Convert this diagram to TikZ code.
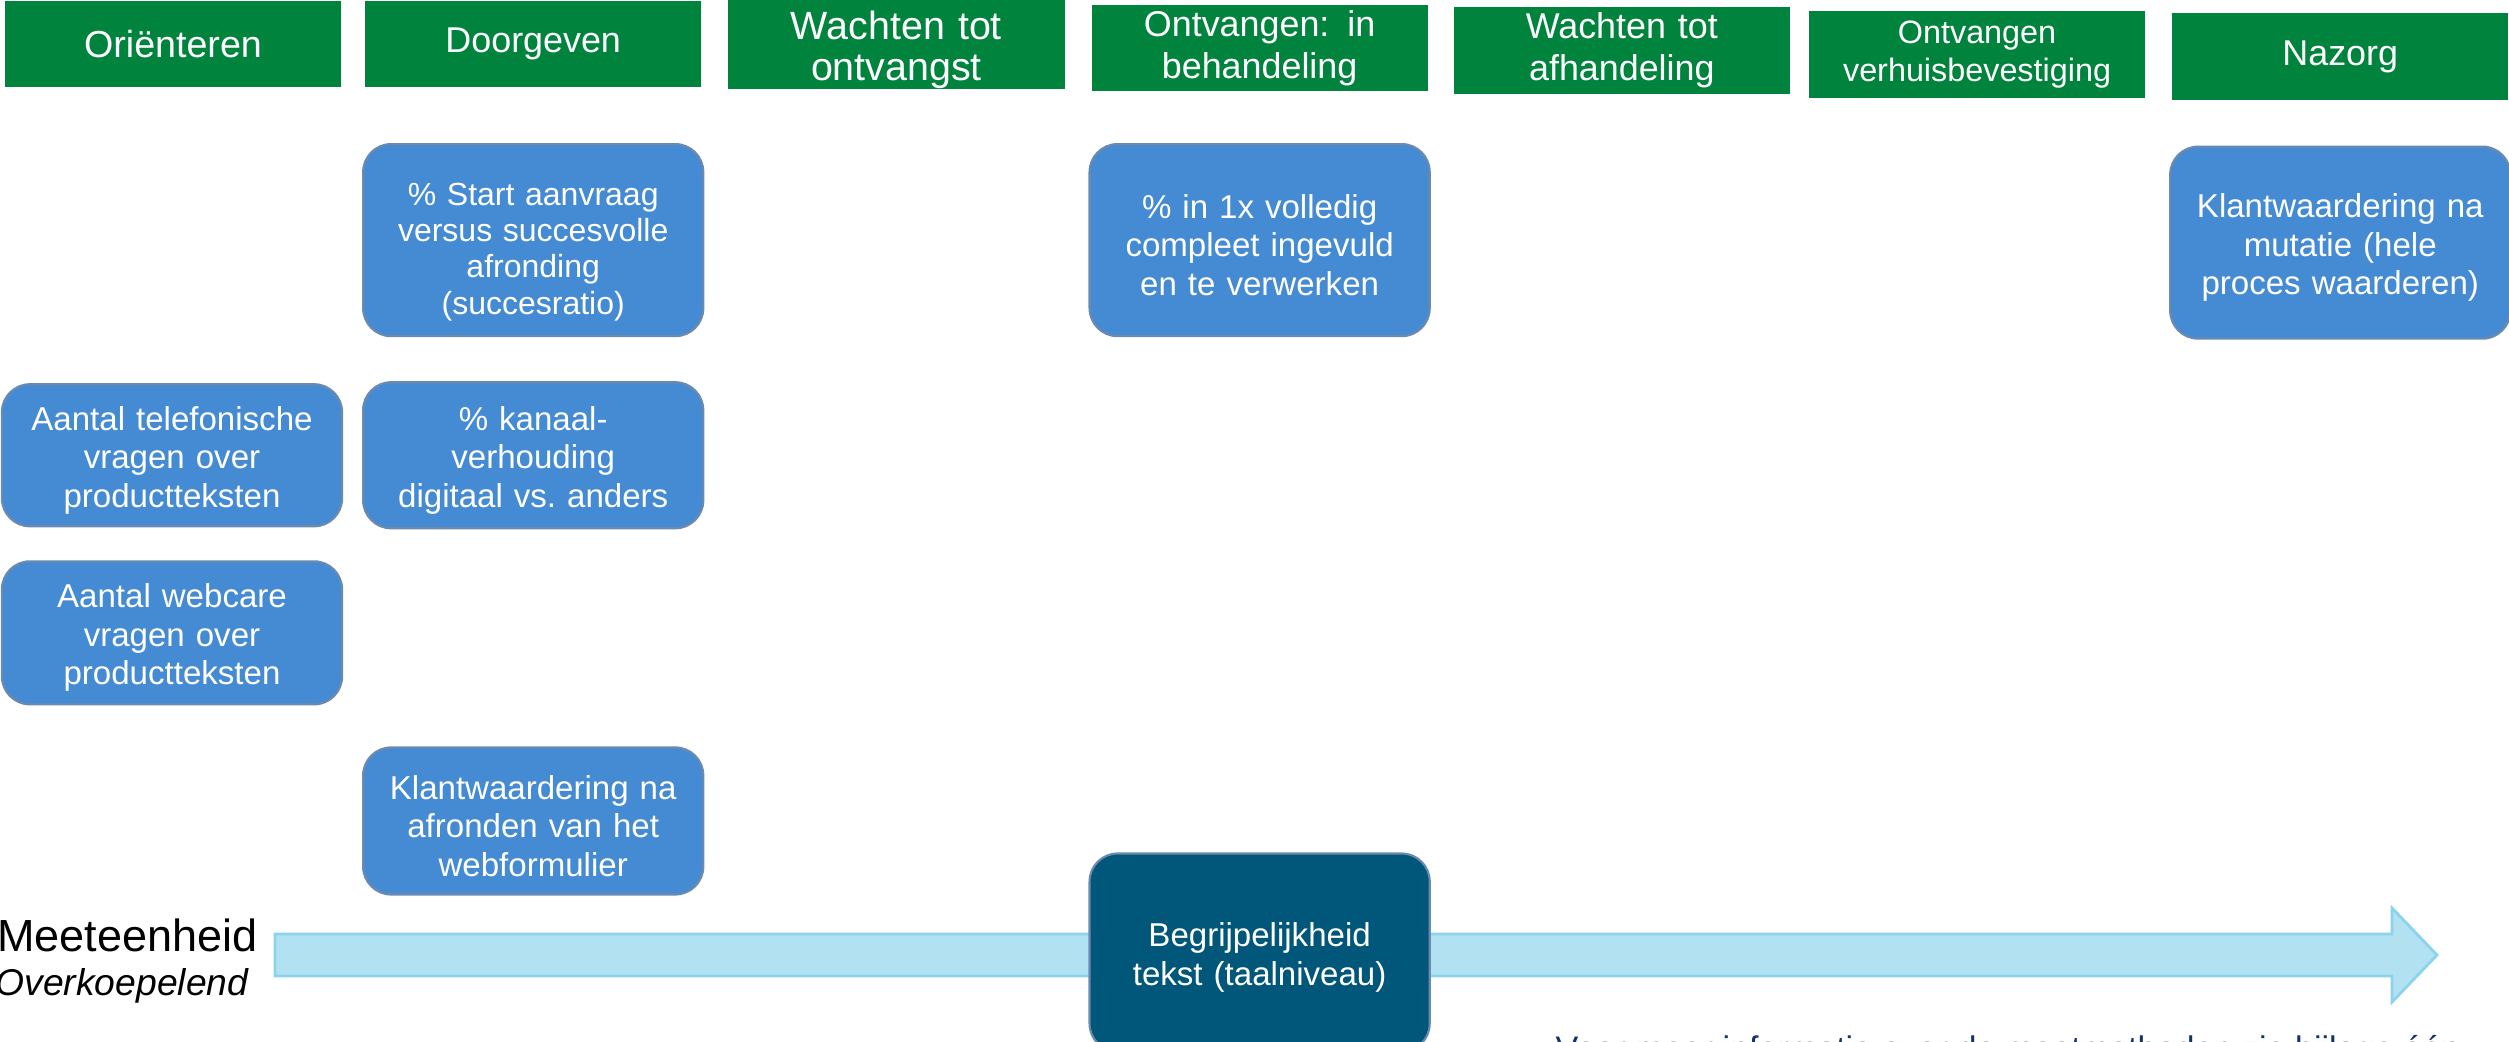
\documentclass[tikz,border=0pt]{standalone}
\usepackage{fontspec}
\setmainfont{Liberation Sans}
\usetikzlibrary{positioning}
\definecolor{phasegreen}{RGB}{0,132,61}
\definecolor{kpiblue}{RGB}{69,139,211}
\definecolor{kpiline}{RGB}{108,138,176}
\definecolor{darkbox}{RGB}{1,87,122}
\definecolor{arrowfill}{RGB}{178,225,242}
\definecolor{arrowline}{RGB}{140,211,237}
\definecolor{infoblue}{RGB}{20,50,100}
\tikzstyle{phase} = [rectangle, fill=phasegreen, text=white, minimum width=3.36cm, minimum height=0.86cm, text width=3.2cm, align=center, inner sep=0pt, outer sep=0pt, font=\fontsize{10.2}{11.9}\selectfont]
\tikzstyle{kpi} = [rectangle, rounded corners=0.28cm, fill=kpiblue, draw=kpiline, line width=0.6pt, text=white, minimum width=3.4cm, text width=3.3cm, align=center, inner sep=0pt, outer sep=0pt, font=\fontsize{9.4}{11}\selectfont, execute at begin node={\rule{0pt}{9.6pt}}]
\tikzstyle{kpidark} = [kpi, fill=darkbox]
\tikzstyle{meetarrow} = [fill=arrowfill, draw=arrowline, line width=0.8pt, line join=miter]

\begin{document}
\begin{tikzpicture}[x=0.01cm, y=-0.01cm, node distance=0.25cm]
\clip (0,0) rectangle (2509,1041);
% phases of the process
\node (orient) [phase, font=\fontsize{10.7}{12}\selectfont] at (173,44) {Oriënteren};
\node (doorg) [phase, right=0.24cm of orient] {Doorgeven};
\node (wachtontv) [phase, right=0.27cm of doorg, font=\fontsize{11.2}{11.9}\selectfont] {\rule{0pt}{11.4pt}Wachten tot\\ontvangst};
\node (inbeh) [phase, right=0.27cm of wachtontv, yshift=-0.04cm] {Ontvangen: in\\behandeling};
\node (wachtafh) [phase, right=0.26cm of inbeh, yshift=-0.025cm] {Wachten tot\\afhandeling};
\node (verhuis) [phase, right=0.19cm of wachtafh, yshift=-0.04cm, font=\fontsize{9.2}{10.6}\selectfont] {Ontvangen\\verhuisbevestiging};
\node (nazorg) [phase, right=0.27cm of verhuis, yshift=-0.02cm] {Nazorg};

% measures
\node (startaanv) [kpi, minimum height=1.92cm, below=0.57cm of doorg, font=\fontsize{9.1}{10.3}\selectfont, execute at begin node={\rule{0pt}{13pt}}] {\% Start aanvraag\\versus succesvolle\\afronding\\(succesratio)};
\node (kanaal) [kpi, minimum height=1.46cm, below=0.46cm of startaanv] {\% kanaal-\\verhouding\\digitaal vs.\ anders};
\node (telvragen) [kpi, minimum height=1.42cm, left=0.21cm of kanaal] {Aantal telefonische\\vragen over\\productteksten};
\node (webcare) [kpi, minimum height=1.43cm, below=0.35cm of telvragen] {Aantal webcare\\vragen over\\productteksten};
\node (klantafr) [kpi, minimum height=1.47cm, below=2.19cm of kanaal] {Klantwaardering na\\afronden van het\\webformulier};
\node (volledig) [kpi, minimum height=1.92cm, below=0.53cm of inbeh] {\% in 1x volledig\\compleet ingevuld\\en te verwerken};
\node (klantmut) [kpi, minimum height=1.92cm, below=0.47cm of nazorg, execute at begin node={}] {Klantwaardering na\\mutatie (hele\\proces waarderen)};

% overall measure along the arrow
\draw [meetarrow] (275,934) -- (2392,934) -- (2392,908) -- (2437,955) -- (2392,1002) -- (2392,976) -- (275,976) -- cycle;
\node (meeteenh) [anchor=east, inner sep=0pt, font=\fontsize{12.8}{14}\selectfont] at (258,935) {Meeteenheid};
\node (overkoep) [anchor=east, inner sep=0pt, font=\fontsize{10.6}{12}\selectfont\itshape] at (249,986) {Overkoepelend};
\node (begrip) [kpidark, minimum height=1.98cm, below=5.17cm of volledig, execute at begin node={\rule{0pt}{8pt}}] {Begrijpelijkheid\\tekst (taalniveau)};

\node (meerinfo) [anchor=base west, inner sep=0pt, text=infoblue, font=\fontsize{9.7}{11}\selectfont] at (1555,1060) {Voor meer informatie over de meetmethoden zie bijlage één};
\end{tikzpicture}
\end{document}
